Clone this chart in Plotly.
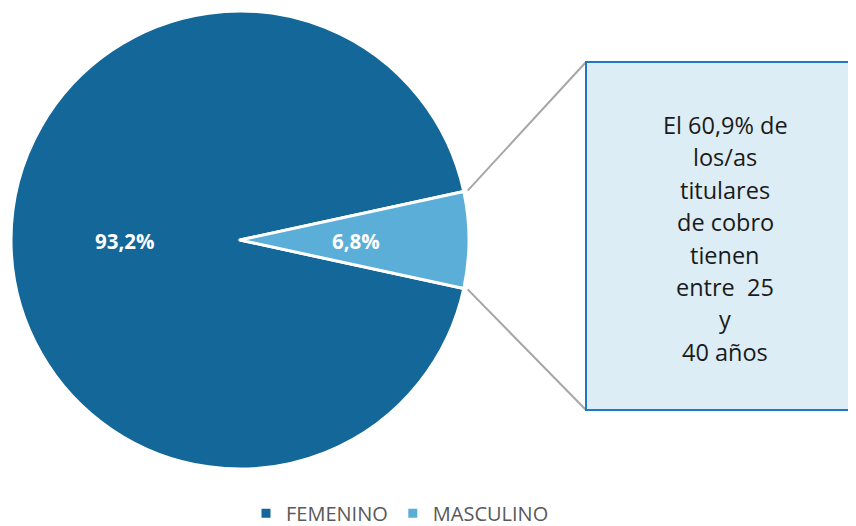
import math
import plotly.graph_objects as go

labels = ["FEMENINO", "MASCULINO"]
values = [93.2, 6.8]
colors = ["#136799", "#5BAED8"]
pct_text = ["93,2%", "6,8%"]
note_lines = ["El 60,9% de", "los/as", "titulares", "de cobro", "tienen", "entre  25", "y", "40 años"]

OFF = 8  # page body margin
W, H = 856 - OFF, 526 - OFF
cx, cy, R = 240 - OFF, 240 - OFF, 229

# rotation so that MASCULINO is centred at 3 o'clock (clockwise from 12 o'clock)
total = sum(values)
fem_deg = values[0] / total * 360
rotation = 90 - (fem_deg + (360 - fem_deg) / 2) + 360

fig = go.Figure(go.Pie(
    labels=labels, values=values, sort=False, direction="clockwise",
    rotation=rotation,
    marker=dict(colors=colors, line=dict(color="white", width=3)),
    textinfo="none",
    domain=dict(x=[(cx - R) / W, (cx + R) / W], y=[1 - (cy + R) / H, 1 - (cy - R) / H]),
    hoverinfo="label+percent",
))

def px(x): return x / W
def py(y): return 1 - y / H

annotations = []
# percentage labels at half radius, mid-angle of each slice
start = rotation
for v, t in zip(values, pct_text):
    span = v / total * 360
    mid = math.radians(start + span / 2)
    lx = cx + 0.505 * R * math.sin(mid)
    ly = cy - 0.505 * R * math.cos(mid)
    annotations.append(dict(text=f"<b>{t}</b>", xref="paper", yref="paper", x=px(lx), y=py(ly + 1),
                            xanchor="center", yanchor="middle", showarrow=False,
                            font=dict(family="Open Sans", size=20.5, color="white")))
    start += span

# callout box
bx0, bx1, by0, by1 = 586 - OFF, 870 - OFF, 62 - OFF, 410 - OFF
half = math.radians((360 - fem_deg) / 2)
ex = cx + (R + 4) * math.cos(half)
ey_top = cy - (R + 4) * math.sin(half)
ey_bot = cy + (R + 4) * math.sin(half)

shapes = [
    dict(type="line", xref="paper", yref="paper", x0=px(ex), y0=py(ey_top), x1=px(bx0), y1=py(by0),
         line=dict(color="#A6A6A6", width=2)),
    dict(type="line", xref="paper", yref="paper", x0=px(ex), y0=py(ey_bot), x1=px(bx0), y1=py(by1),
         line=dict(color="#A6A6A6", width=2)),
    dict(type="rect", xref="paper", yref="paper", x0=px(bx0), y0=py(by1), x1=px(bx1), y1=py(by0),
         fillcolor="#DDEDF6", line=dict(color="#1F78C1", width=2)),
]

for i, line in enumerate(note_lines):
    annotations.append(dict(
        text=line, xref="paper", yref="paper", x=px(725 - OFF), y=py(125 - OFF + i * 32.4),
        xanchor="center", yanchor="middle", showarrow=False,
        font=dict(family="Open Sans", size=23.5, color="#1a1a1a"),
    ))

fig.update_layout(
    width=W, height=H, margin=dict(l=0, r=0, t=0, b=0, autoexpand=False),
    paper_bgcolor="white", plot_bgcolor="white",
    shapes=shapes, annotations=annotations,
    showlegend=True,
    legend=dict(orientation="h", x=px(400 - OFF), xanchor="center",
                yref="paper", y=-0.013, yanchor="bottom",
                font=dict(family="Open Sans", size=20, color="#595959"), itemwidth=30),
)

fig.write_html("out.html")
